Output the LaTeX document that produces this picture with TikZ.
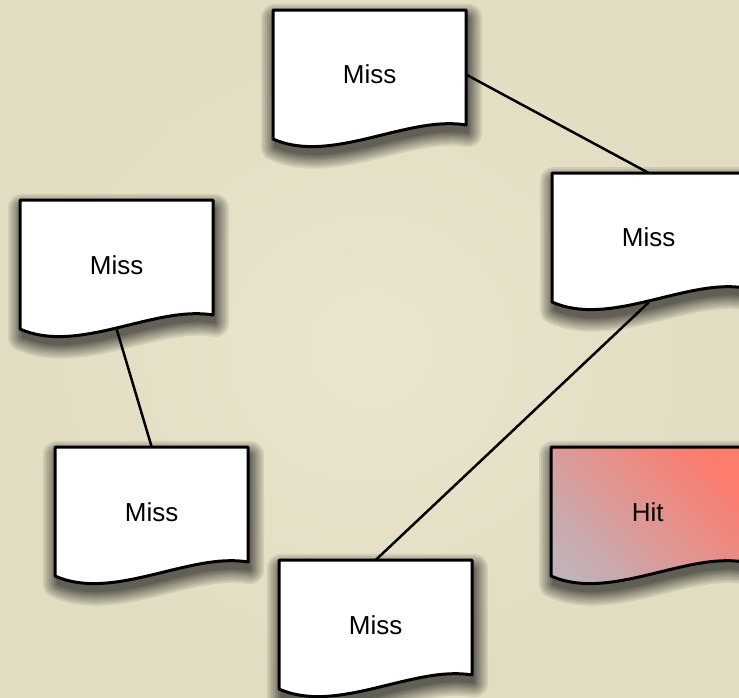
\documentclass[tikz,border=0pt]{standalone}
\usepackage{fontspec}
\setmainfont{Liberation Sans}
\pgfdeclarelayer{bg}
\pgfdeclarelayer{shade}
\pgfdeclarelayer{edges}
\pgfsetlayers{bg,shade,edges,main}
\definecolor{paperin}{RGB}{234,229,205}
\definecolor{paperout}{RGB}{226,220,194}
\definecolor{hittop}{RGB}{252,124,110}
\definecolor{hitbot}{RGB}{192,178,184}
\tikzset{
  x=1pt, y=-1pt,
  docshape/.pic={
    \path[pic actions] (0,0) -- (193,0) -- (193,115)
      .. controls (135,105) and (58,155) .. (0,129) -- cycle;
  },
  docshadow/.pic={
    \foreach \r in {28,24,20,16,12,9,6,3,1}{
      \begin{scope}[transparency group, opacity=0.085, shift={(2,8)}]
        \path[fill=black, draw=black, line width=\r pt, line join=round]
          (0,0) -- (193,0) -- (193,115)
          .. controls (135,105) and (58,155) .. (0,129) -- cycle;
      \end{scope}
    }
  },
  docbody/.style={draw=black, line width=3pt, line join=round},
  plain/.style={docbody, fill=white},
  hot/.style={docbody, top color=hittop, bottom color=hitbot, shading angle=-45},
  docnode/.style={rectangle, draw=none, anchor=north west, inner sep=0pt,
    minimum width=193pt, minimum height=129pt,
    font=\fontsize{26}{31}\selectfont, text=black},
  link/.style={draw=black, line width=2.5pt}
}
\begin{document}
\begin{tikzpicture}
\useasboundingbox (0,0) rectangle (739,697);
\begin{pgfonlayer}{bg}
  \path[inner color=paperin, outer color=paperout] (0,0) rectangle (739,697);
\end{pgfonlayer}

\begin{pgfonlayer}{shade}
  \pic at (273,10) {docshadow};
  \pic at (552,173) {docshadow};
  \pic at (551,447) {docshadow};
  \pic at (20,200) {docshadow};
  \pic at (279,560) {docshadow};
  \pic at (55,447) {docshadow};
\end{pgfonlayer}

\pic[plain] at (273,10) {docshape};
\pic[plain] at (552,173) {docshape};
\pic[hot] at (551,447) {docshape};
\pic[plain] at (20,200) {docshape};
\pic[plain] at (279,560) {docshape};
\pic[plain] at (55,447) {docshape};

\node[docnode] (top) at (273,10) {Miss};
\node[docnode] (right) at (552,173) {Miss};
\node[docnode] (hit) at (551,447) {Hit};
\node[docnode] (left) at (20,200) {Miss};
\node[docnode] (bottom) at (279,560) {Miss};
\node[docnode] (lowleft) at (55,447) {Miss};

\begin{pgfonlayer}{edges}
  \draw[link] (top.east) -- (right.north);
  \draw[link] (right.south) -- (bottom.north);
  \draw[link] (left.south) -- (lowleft.north);
\end{pgfonlayer}
\end{tikzpicture}
\end{document}
